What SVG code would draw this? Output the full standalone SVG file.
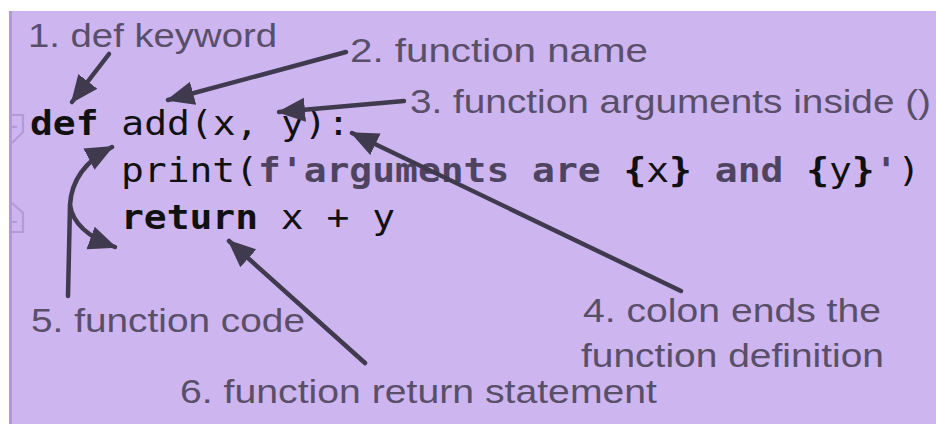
<svg xmlns="http://www.w3.org/2000/svg" width="936" height="424" viewBox="0 0 936 424">
<style>
.lbl{font-family:"Liberation Sans",Arial,sans-serif;font-size:33.5px;fill:#5a4f69}
.code{font-family:"DejaVu Sans Mono",monospace;font-size:33px;fill:#111}
.b{font-weight:bold}
.g{fill:#4e4460;font-weight:bold}
.arr{fill:none;stroke:#3f3a4e;stroke-width:4.5;stroke-linecap:round}
.fold{fill:none;stroke:#b39bd6;stroke-width:2.2}
</style>
<defs>
<marker id="ah" markerUnits="userSpaceOnUse" markerWidth="30" markerHeight="26" refX="26" refY="12" orient="auto" viewBox="0 0 30 24">
<path d="M0,0 L28,12 L0,24 Z" fill="#3f3a4e"/>
</marker>
</defs>
<rect x="0" y="0" width="936" height="424" fill="#ffffff"/>
<rect x="9" y="11" width="927" height="413" fill="#cdb5f0"/>
<rect x="9" y="11" width="3" height="413" fill="#b09ad2"/>
<g id="fold-markers">
<path class="fold" d="M11,115 H23 V132 L12,143"/>
<path class="fold" d="M9,127 H17"/>
<path class="fold" d="M12,203 L23,213 V232 H11"/>
<path class="fold" d="M9,222 H17"/>
</g>
<g id="code" transform="scale(1.15 1)">
<text class="code" x="26.1" y="135"><tspan class="b">def</tspan> add(x, y):</text>
<text class="code" x="105.2" y="182">print(<tspan class="g">f'arguments are </tspan><tspan class="b">{</tspan>x<tspan class="b">}</tspan><tspan class="g"> and </tspan><tspan class="b">{</tspan>y<tspan class="b">}</tspan><tspan class="g">'</tspan>)</text>
<text class="code" x="105.2" y="229"><tspan class="b">return</tspan> x + y</text>
</g>
<g id="labels">
<g id="label1"><text class="lbl" x="28" y="47" textLength="249" lengthAdjust="spacingAndGlyphs">1. def keyword</text></g>
<g id="label2"><text class="lbl" x="350" y="62" textLength="298" lengthAdjust="spacingAndGlyphs">2. function name</text></g>
<g id="label3"><text class="lbl" x="410" y="113" textLength="521" lengthAdjust="spacingAndGlyphs">3. function arguments inside ()</text></g>
<g id="label4"><text class="lbl" x="583" y="322" textLength="298" lengthAdjust="spacingAndGlyphs">4. colon ends the</text><text class="lbl" x="581" y="367" textLength="303" lengthAdjust="spacingAndGlyphs">function definition</text></g>
<g id="label5"><text class="lbl" x="31" y="332" textLength="274" lengthAdjust="spacingAndGlyphs">5. function code</text></g>
<g id="label6"><text class="lbl" x="180" y="403" textLength="477" lengthAdjust="spacingAndGlyphs">6. function return statement</text></g>
</g>
<g id="connectors">
<path class="arr" d="M109,54 L72,102" marker-end="url(#ah)"/>
<path class="arr" d="M346,52 L168,100" marker-end="url(#ah)"/>
<path class="arr" d="M404,101 L279,112" marker-end="url(#ah)"/>
<path class="arr" d="M681,291 L352,133" marker-end="url(#ah)"/>
<path class="arr" d="M68,296 L70,205 Q72,168 112,147" marker-end="url(#ah)"/>
<path class="arr" d="M70,205 Q74,232 115,247" marker-end="url(#ah)"/>
<path class="arr" d="M365,363 L229,241" marker-end="url(#ah)"/>
</g>
</svg>
